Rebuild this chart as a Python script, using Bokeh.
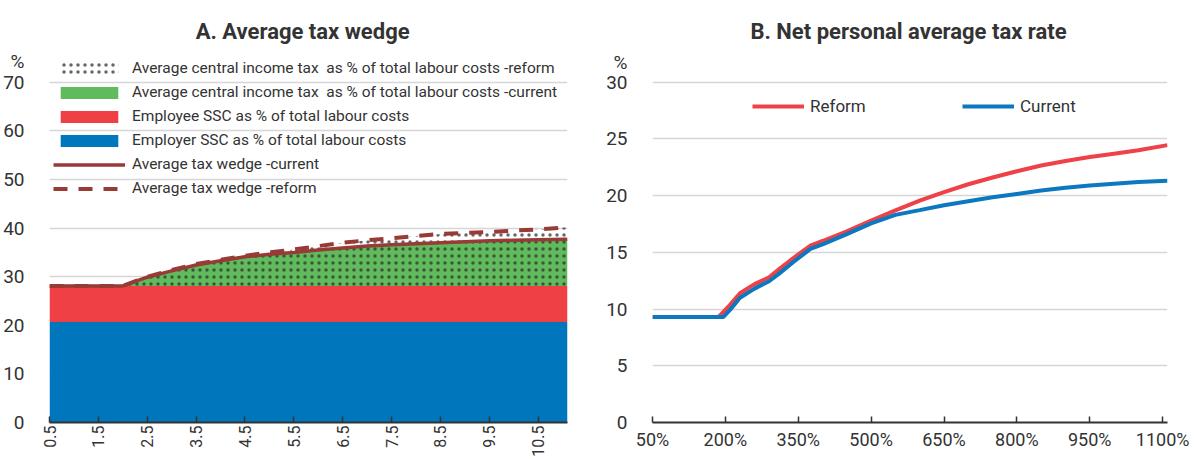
import math
from bokeh.plotting import figure
from bokeh.layouts import row
from bokeh.models import FixedTicker, Label, Legend, LegendItem, ColumnDataSource
from bokeh.embed import file_html
from bokeh.resources import INLINE

FONT = "Roboto"
TEXT = "#333333"
BLUE = "#0077BD"
RED = "#EE4045"
GREEN = "#5FBB5B"
DARKRED = "#983A36"
GRID = "#D6D6D6"

# ---------------- Panel A data: multiples of average wage ----------------
a_earnings = [0.5, 1.0, 1.5, 2.0, 2.5, 3.0, 3.5, 4.0, 4.5, 5.0, 5.5, 6.0,
              6.5, 7.0, 7.5, 8.0, 8.5, 9.0, 9.5, 10.0, 10.5, 11.1]
a_employer_ssc = 20.7
a_employee_ssc = 7.4
a_wedge_current = [28.1, 28.1, 28.1, 28.1, 29.9, 31.2, 32.4, 33.3, 34.1, 34.6, 35.0,
                   35.5, 35.9, 36.3, 36.6, 36.8, 37.0, 37.2, 37.4, 37.5, 37.6, 37.7]
a_wedge_reform = [28.1, 28.1, 28.1, 28.1, 30.0, 31.4, 32.6, 33.5, 34.3, 35.0, 35.6,
                  36.3, 37.0, 37.5, 37.9, 38.4, 38.8, 39.0, 39.2, 39.5, 39.7, 40.2]
a_x_ticks = [0.5, 1.5, 2.5, 3.5, 4.5, 5.5, 6.5, 7.5, 8.5, 9.5, 10.5]
a_x_tick_labels = ["0.5", "1.5", "2.5", "3.5", "4.5", "5.5", "6.5", "7.5", "8.5", "9.5", "10.5"]
a_grid_ticks = [0, 10, 20, 30, 40, 50, 60, 70]
a_y_ticks = [0, 10, 20, 30, 40, 50, 60, 70, 74.3]
a_y_tick_labels = ["0", "10", "20", "30", "40", "50", "60", "70", "%"]
a_title = "A. Average tax wedge"
a_legend_labels = [
    "Average central income tax  as % of total labour costs -reform",
    "Average central income tax  as % of total labour costs -current",
    "Employee SSC as % of total labour costs",
    "Employer SSC as % of total labour costs",
    "Average tax wedge -current",
    "Average tax wedge -reform",
]

# ---------------- Panel B data: % of average wage ----------------
b_earnings = [50, 100, 150, 186, 196, 210, 230, 260, 290, 310, 340, 375, 400, 450,
              500, 550, 600, 650, 700, 750, 800, 850, 900, 950, 1000, 1050, 1110]
b_reform = [9.3, 9.3, 9.3, 9.3, 9.75, 10.4, 11.4, 12.2, 12.8, 13.5, 14.5, 15.6, 16.0, 16.85,
            17.8, 18.7, 19.55, 20.3, 21.0, 21.6, 22.15, 22.65, 23.05, 23.4, 23.7, 24.0, 24.45]
b_current = [9.3, 9.3, 9.3, 9.3, 9.3, 9.95, 11.0, 11.8, 12.45, 13.1, 14.15, 15.3, 15.7, 16.6,
             17.55, 18.3, 18.72, 19.15, 19.5, 19.85, 20.15, 20.45, 20.7, 20.9, 21.05, 21.2, 21.3]
b_x_ticks = [50, 200, 350, 500, 650, 800, 950, 1100]
b_x_tick_labels = ["50%", "200%", "350%", "500%", "650%", "800%", "950%", "1100%"]
b_grid_ticks = [0, 5, 10, 15, 20, 25, 30]
b_y_ticks = [0, 5, 10, 15, 20, 25, 30, 31.75]
b_y_tick_labels = ["0", "5", "10", "15", "20", "25", "30", "%"]
b_title = "B. Net personal average tax rate"
b_legend_labels = ["Reform", "Current"]


def style(p, grid_ticks, yticks, ylabels):
    p.outline_line_color = None
    p.background_fill_color = "white"
    p.border_fill_color = "white"
    p.xgrid.visible = False
    p.ygrid.ticker = FixedTicker(ticks=grid_ticks)
    p.ygrid.grid_line_color = GRID
    p.ygrid.grid_line_width = 1.5
    p.yaxis.ticker = FixedTicker(ticks=yticks)
    p.yaxis.major_label_overrides = {t: l for t, l in zip(yticks, ylabels)}
    p.yaxis.axis_line_color = None
    p.yaxis.major_tick_line_color = None
    p.yaxis.minor_tick_line_color = None
    p.yaxis.major_label_text_font = FONT
    p.yaxis.major_label_text_font_size = "19px"
    p.yaxis.major_label_text_color = TEXT
    p.yaxis.major_label_standoff = 19
    p.xaxis.axis_line_color = TEXT
    p.xaxis.axis_line_width = 2
    p.xaxis.major_tick_line_color = TEXT
    p.xaxis.major_tick_line_width = 1.5
    p.xaxis.major_tick_in = 6
    p.xaxis.major_tick_out = 0
    p.xaxis.minor_tick_line_color = None
    p.xaxis.major_label_text_font = FONT
    p.xaxis.major_label_text_color = TEXT


# ================= Panel A =================
n = len(a_earnings)
ssc_total = a_employer_ssc + a_employee_ssc
src_a = ColumnDataSource(dict(
    x=a_earnings,
    zero=[0.0] * n,
    employer=[a_employer_ssc] * n,
    ssc=[ssc_total] * n,
    cur=a_wedge_current,
    ref=a_wedge_reform,
))

p1 = figure(width=598, height=459, x_range=(0.5, 11.1), y_range=(0, 86.84),
            output_backend="svg", toolbar_location=None,
            min_border_left=49, min_border_right=31, min_border_top=0, min_border_bottom=36)
style(p1, a_grid_ticks, a_y_ticks, a_y_tick_labels)
p1.xaxis.ticker = FixedTicker(ticks=a_x_ticks)
p1.xaxis.major_label_overrides = {t: l for t, l in zip(a_x_ticks, a_x_tick_labels)}
p1.xaxis.major_label_orientation = math.pi / 2
p1.xaxis.major_label_text_font_size = "16px"
p1.xaxis.major_label_standoff = 3

r_blue = p1.varea(x="x", y1="zero", y2="employer", source=src_a, fill_color=BLUE)
r_red = p1.varea(x="x", y1="employer", y2="ssc", source=src_a, fill_color=RED)
r_green = p1.varea(x="x", y1="ssc", y2="cur", source=src_a, fill_color=GREEN)
r_hatch = p1.varea(x="x", y1="ssc", y2="ref", source=src_a, fill_color="white", fill_alpha=0,
                   hatch_pattern=".", hatch_color="#333333", hatch_alpha=0.75,
                   hatch_scale=7, hatch_weight=0.5)
r_cur = p1.line(x="x", y="cur", source=src_a, line_color=DARKRED, line_width=3.5)
r_ref = p1.line(x="x", y="ref", source=src_a, line_color=DARKRED, line_width=4, line_dash="14 11")

leg_a = Legend(items=[
    LegendItem(label=a_legend_labels[0], renderers=[r_hatch]),
    LegendItem(label=a_legend_labels[1], renderers=[r_green]),
    LegendItem(label=a_legend_labels[2], renderers=[r_red]),
    LegendItem(label=a_legend_labels[3], renderers=[r_blue]),
    LegendItem(label=a_legend_labels[4], renderers=[r_cur]),
    LegendItem(label=a_legend_labels[5], renderers=[r_ref]),
], location=(4, 224), orientation="vertical",
    glyph_width=72, glyph_height=15, label_height=20, spacing=4, padding=0, margin=0,
    label_standoff=7, border_line_color=None, background_fill_alpha=0,
    label_text_font=FONT, label_text_font_size="15.5px", label_text_color=TEXT)
p1.add_layout(leg_a)

p1.add_layout(Label(x=5.68, y=80.54, text=a_title, text_align="center", text_baseline="alphabetic",
                    text_font=FONT, text_font_size="22px", text_font_style="bold", text_color=TEXT))

# ================= Panel B =================
src_b = ColumnDataSource(dict(x=b_earnings, reform=b_reform, current=b_current))

p2 = figure(width=597, height=459, x_range=(50, 1110), y_range=(0, 37.2),
            output_backend="svg", toolbar_location=None,
            min_border_left=54, min_border_right=28, min_border_top=0, min_border_bottom=36)
style(p2, b_grid_ticks, b_y_ticks, b_y_tick_labels)
p2.xaxis.ticker = FixedTicker(ticks=b_x_ticks)
p2.xaxis.major_label_overrides = {t: l for t, l in zip(b_x_ticks, b_x_tick_labels)}
p2.xaxis.major_label_text_font_size = "18px"
p2.xaxis.major_label_standoff = 6

r_bref = p2.line(x="x", y="reform", source=src_b, line_color="#EE4248", line_width=4)
r_bcur = p2.line(x="x", y="current", source=src_b, line_color="#0C78BF", line_width=4)

leg_b = Legend(items=[
    LegendItem(label=b_legend_labels[0], renderers=[r_bref]),
    LegendItem(label=b_legend_labels[1], renderers=[r_bcur]),
], location=(100, 306), orientation="horizontal",
    glyph_width=52, glyph_height=20, label_height=20, label_width=152, spacing=0,
    padding=0, margin=0, label_standoff=6, border_line_color=None, background_fill_alpha=0,
    label_text_font=FONT, label_text_font_size="17px", label_text_color=TEXT)
p2.add_layout(leg_b)

p2.add_layout(Label(x=577, y=34.5, text=b_title, text_align="center", text_baseline="alphabetic",
                    text_font=FONT, text_font_size="22px", text_font_style="bold", text_color=TEXT))

layout = row(p1, p2)
open("out.html", "w").write(file_html(layout, INLINE))
